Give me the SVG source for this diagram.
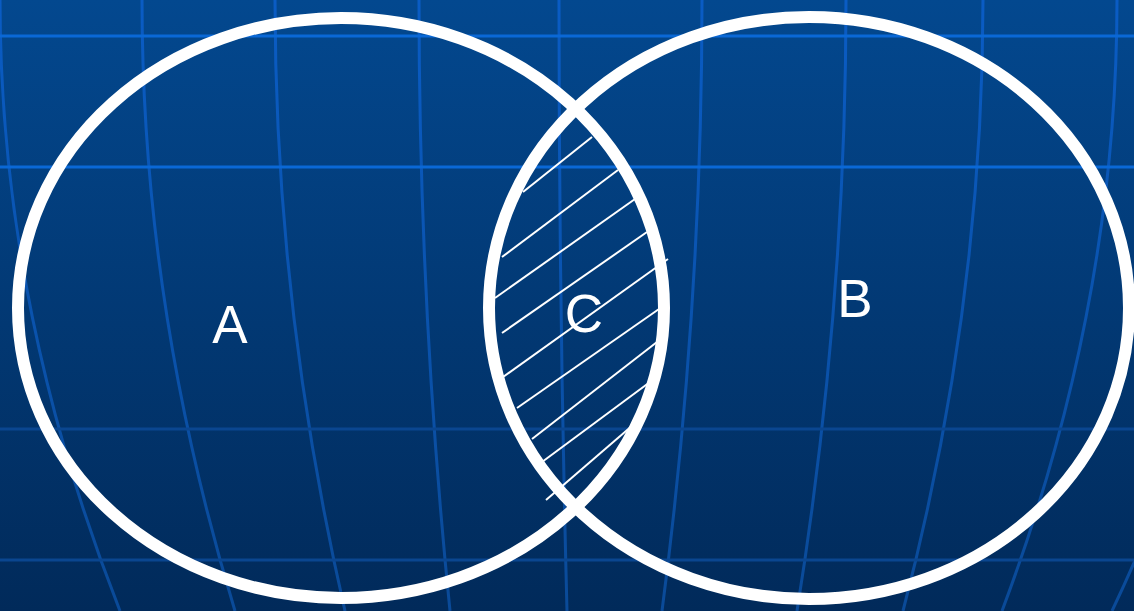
<svg xmlns="http://www.w3.org/2000/svg" width="1134" height="611" viewBox="0 0 1134 611">
  <defs>
    <linearGradient id="bg" x1="0" y1="0" x2="0" y2="611" gradientUnits="userSpaceOnUse">
      <stop offset="0" stop-color="#03488f"/>
      <stop offset="1" stop-color="#012a5a"/>
    </linearGradient>
    <linearGradient id="vline" x1="0" y1="0" x2="0" y2="611" gradientUnits="userSpaceOnUse">
      <stop offset="0" stop-color="#0a5cc4"/>
      <stop offset="1" stop-color="#0a4a98"/>
    </linearGradient>
  </defs>
  <style>
    .v { fill: none; stroke: url(#vline); stroke-width: 3; }
    .hTop { stroke: #0a68d6; stroke-width: 3; }
    .hBot { stroke: #0a4690; stroke-width: 3; }
    .set { fill: none; stroke: #ffffff; stroke-width: 12; }
    .hatch { stroke: #ffffff; stroke-width: 2; stroke-linecap: butt; }
    .label { font-family: "Liberation Sans", Arial, sans-serif; font-size: 53px; fill: #ffffff; text-anchor: middle; }
  </style>

  <rect x="0" y="0" width="1134" height="611" fill="url(#bg)"/>

  <g id="grid">
    <path class="v" d="M0,0 Q0,305.5 120,611"/>
    <path class="v" d="M142,0 Q142,305.5 235,611"/>
    <path class="v" d="M275,0 Q275,305.5 345,611"/>
    <path class="v" d="M419,0 Q419,305.5 450,611"/>
    <path class="v" d="M559,0 Q559,305.5 567,611"/>
    <path class="v" d="M702,0 Q702,305.5 662,611"/>
    <path class="v" d="M846,0 Q846,305.5 797,611"/>
    <path class="v" d="M983,0 Q983,305.5 903,611"/>
    <path class="v" d="M1117,0 Q1117,305.5 1002,611"/>
    <path class="v" d="M1257,0 Q1257,305.5 1112,611"/>
    <line class="hTop" x1="0" y1="36" x2="1134" y2="36"/>
    <line class="hTop" x1="0" y1="167" x2="1134" y2="167"/>
    <line class="hBot" x1="0" y1="429" x2="1134" y2="429"/>
    <line class="hBot" x1="0" y1="560" x2="1134" y2="560"/>
  </g>

  <g id="node-C">
    <line class="hatch" x1="523" y1="192" x2="592" y2="137"/>
    <line class="hatch" x1="502" y1="257" x2="618" y2="170"/>
    <line class="hatch" x1="495" y1="298" x2="635" y2="199"/>
    <line class="hatch" x1="502" y1="333" x2="647" y2="232"/>
    <line class="hatch" x1="503" y1="377" x2="668" y2="259"/>
    <line class="hatch" x1="517" y1="408" x2="659" y2="309"/>
    <line class="hatch" x1="532" y1="439" x2="657" y2="342"/>
    <line class="hatch" x1="542" y1="462" x2="650" y2="382"/>
    <line class="hatch" x1="546" y1="500" x2="633" y2="425"/>
    <text class="label" x="584" y="332">C</text>
  </g>

  <g id="node-A">
    <ellipse class="set" cx="341" cy="308" rx="323" ry="290"/>
    <text class="label" x="230" y="343">A</text>
  </g>

  <g id="node-B">
    <ellipse class="set" cx="809" cy="308" rx="320" ry="291"/>
    <text class="label" x="855" y="317">B</text>
  </g>

  <g id="connectors"/>
</svg>
